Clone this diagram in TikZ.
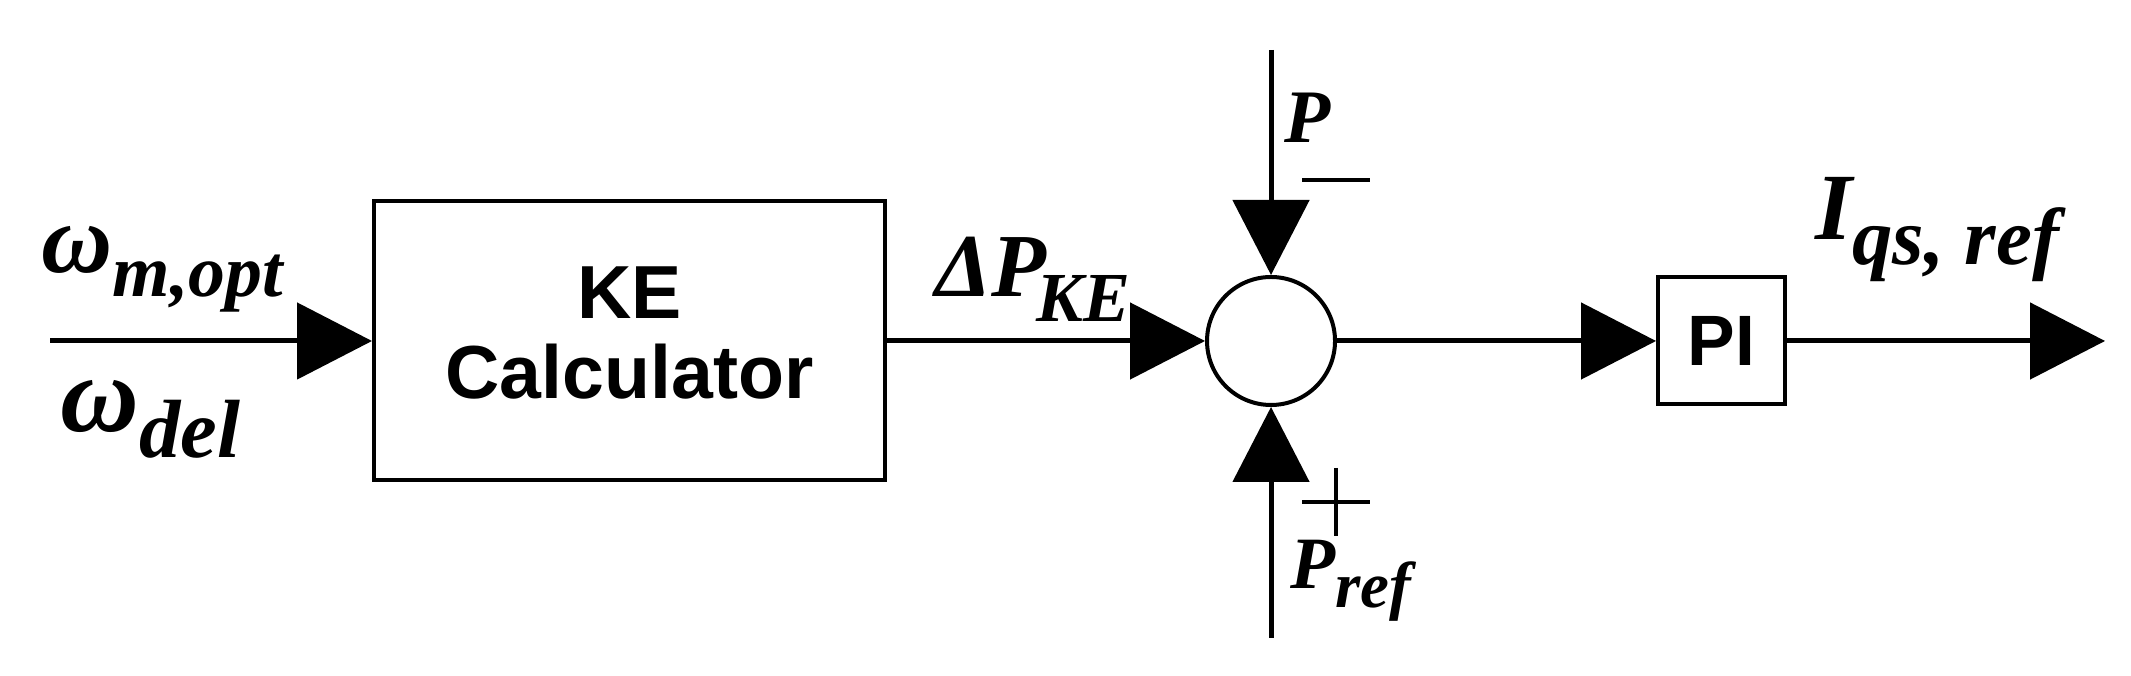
\documentclass[tikz,border=0pt]{standalone}
\usepackage{fontspec}
\setmainfont{Liberation Serif}
\setsansfont{Liberation Sans}
\usetikzlibrary{arrows.meta, positioning, calc}
\newcommand{\sigtxt}[6][0pt]{{\fontsize{#2}{#2}\selectfont #3}\kern#1\raisebox{-#6}{\fontsize{#4}{#4}\selectfont #5}}

\begin{document}
\begin{tikzpicture}[>={Triangle[length=0.75cm,width=0.76cm]}, font=\bfseries\itshape, line width=1.42pt,
  blk/.style={draw, line width=1.14pt, inner sep=0pt},
  sumnode/.style={draw, circle, line width=1.14pt, inner sep=0pt, minimum size=1.28cm},
  lbl/.style={inner sep=0pt, anchor=base west},
  sgn/.style={line width=1.14pt}]
  \useasboundingbox (0,0) rectangle (21.31,6.76);
  \coordinate (in) at (0.50,3.35);
  \node[blk, right=3.22cm of in, minimum width=5.11cm, minimum height=2.79cm, align=center, text depth=0.16cm,
        font=\sffamily\bfseries\fontsize{21.4}{22.8}\selectfont] (ke) {KE\\Calculator};
  \node[sumnode, right=3.18cm of ke] (sum) {};
  \node[blk, right=3.19cm of sum, minimum size=1.27cm,
        font=\sffamily\bfseries\fontsize{20.3}{20.3}\selectfont] (pi) {PI};
  \coordinate[right=3.18cm of pi] (out);
  \coordinate[above=2.25cm of sum] (ptop);
  \coordinate[below=2.31cm of sum] (pbot);
  % signal flow
  \draw[->] (in) -- (ke);
  \draw[->] (ke) -- (sum);
  \draw[->] (ptop) -- (sum);
  \draw[->] (pbot) -- (sum);
  \draw[->] (sum) -- (pi);
  \draw[->] (pi) -- (out);
  % signs at the summing point
  \draw[sgn] ($(sum)+(0.31,1.61)$) -- ++(0.68,0);
  \draw[sgn] ($(sum)+(0.31,-1.61)$) -- ++(0.68,0) ($(sum)+(0.65,-1.27)$) -- ++(0,-0.68);
  % labels
  \node[lbl] (wopt) at ($(in)+(-0.11,0.68)$) {\sigtxt{28}{ω}{21}{m,opt}{0.24cm}};
  \node[lbl] (wdel) at ($(in)+(0.08,-0.91)$) {\sigtxt{31}{ω}{23.5}{del}{0.26cm}};
  \node[lbl] (dpke) at ($(ke.east)+(0.46,0.44)$) {\sigtxt[-0.1cm]{25.6}{ΔP}{20}{KE}{0.25cm}};
  \node[lbl] (pmeas) at ($(sum)+(0.11,1.98)$) {\fontsize{21.5}{21.5}\selectfont P};
  \node[lbl] (pref) at ($(sum)+(0.17,-2.48)$) {\sigtxt{21}{P}{18.5}{ref}{0.19cm}};
  \node[lbl] (iqs) at ($(pi.east)+(0.26,1.01)$) {\sigtxt{27}{I}{23}{qs, ref}{0.25cm}};
\end{tikzpicture}
\end{document}
